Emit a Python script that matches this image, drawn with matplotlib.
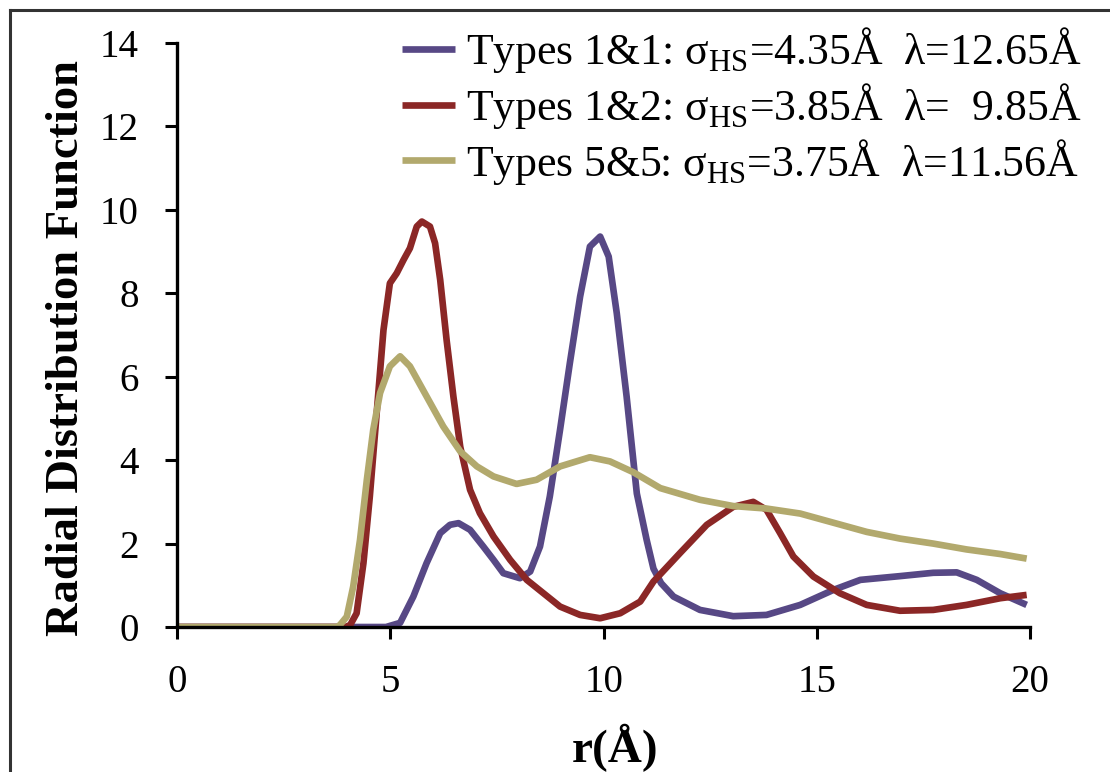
import matplotlib
matplotlib.use("Agg")
import matplotlib.pyplot as plt
from matplotlib.lines import Line2D

# ---- data ----
r_11 = [0, 4.9, 5.23, 5.54, 5.85, 6.17, 6.4, 6.6, 6.87, 7.18, 7.42, 7.65, 8.04, 8.28, 8.51, 8.74,
        8.98, 9.21, 9.45, 9.68, 9.92, 10.12, 10.31, 10.54, 10.78, 11.01, 11.17, 11.35, 11.64, 12.26,
        13.04, 13.82, 14.61, 15.39, 16.02, 16.95, 17.73, 18.28, 18.75, 19.3, 19.92]
g_11 = [0, 0, 0.1, 0.73, 1.53, 2.25, 2.45, 2.49, 2.33, 1.93, 1.61, 1.29, 1.17, 1.33, 1.93, 3.13,
        4.73, 6.33, 7.92, 9.12, 9.36, 8.88, 7.52, 5.53, 3.2, 2.09, 1.4, 1.05, 0.73, 0.41,
        0.26, 0.29, 0.53, 0.89, 1.13, 1.22, 1.30, 1.31, 1.13, 0.81, 0.53]

r_12 = [0, 3.95, 4.06, 4.21, 4.37, 4.52, 4.68, 4.84, 4.99, 5.15, 5.31, 5.46, 5.62, 5.74, 5.93, 6.05,
        6.17, 6.32, 6.48, 6.64, 6.87, 7.1, 7.42, 7.81, 8.2, 8.59, 8.98, 9.45, 9.92, 10.39, 10.86,
        11.17, 11.79, 12.42, 13.04, 13.51, 13.82, 14.14, 14.45, 14.92, 15.54, 16.17, 16.95, 17.73,
        18.51, 19.3, 19.92]
g_12 = [0, 0, 0.05, 0.33, 1.53, 3.13, 5.12, 7.12, 8.24, 8.48, 8.8, 9.08, 9.6, 9.72, 9.6, 9.2,
        8.32, 6.88, 5.52, 4.32, 3.29, 2.73, 2.17, 1.61, 1.13, 0.81, 0.49, 0.29, 0.21, 0.33, 0.61,
        1.09, 1.77, 2.45, 2.88, 3.0, 2.81, 2.25, 1.69, 1.21, 0.81, 0.53, 0.39, 0.41,
        0.53, 0.69, 0.77]

r_55 = [0, 3.75, 3.82, 3.98, 4.13, 4.29, 4.45, 4.6, 4.76, 4.99, 5.23, 5.46, 5.85, 6.24, 6.64, 7.03,
        7.42, 7.96, 8.43, 8.98, 9.68, 10.15, 10.7, 11.33, 12.26, 13.04, 13.82, 14.61, 15.39, 16.17,
        16.95, 17.73, 18.51, 19.3, 19.92]
g_55 = [0, 0, 0.05, 0.25, 0.97, 2.09, 3.53, 4.73, 5.61, 6.25, 6.49, 6.25, 5.53, 4.81, 4.21, 3.85,
        3.61, 3.43, 3.53, 3.85, 4.07, 3.97, 3.71, 3.33, 3.05, 2.9, 2.84, 2.72, 2.5, 2.28,
        2.12, 2.0, 1.86, 1.75, 1.64]

labels = [r"Types 1&1: σ$_{\mathregular{HS}}$=4.35Å  λ=12.65Å",
          r"Types 1&2: σ$_{\mathregular{HS}}$=3.85Å  λ=  9.85Å",
          r"Types 5&5: σ$_{\mathregular{HS}}$=3.75Å  λ=11.56Å"]
colors = ["#574885", "#8b2726", "#b2a96d"]
x_ticks = [0, 5, 10, 15, 20]
y_ticks = [0, 2, 4, 6, 8, 10, 12, 14]

plt.rcParams['mathtext.fontset'] = 'custom'
plt.rcParams['mathtext.rm'] = 'Liberation Serif'

fig = plt.figure(figsize=(11.1, 7.72), dpi=100)
ax = fig.add_axes([0.1595, 0.1878, 0.7685, 0.7565])

series = [(r_11, g_11), (r_12, g_12), (r_55, g_55)]
for (rr, gg), c, lab in zip(series, colors, labels):
    ax.plot(rr, gg, color=c, lw=4.8, label=lab, solid_capstyle='butt', solid_joinstyle='round')

ax.set_xlim(0, 20)
ax.set_ylim(0, 14)
ax.set_xticks(x_ticks)
ax.set_yticks(y_ticks)
for s in ['top', 'right']:
    ax.spines[s].set_visible(False)
for s in ['left', 'bottom']:
    ax.spines[s].set_linewidth(2.4)
ax.tick_params(width=2.2, length=8.6, labelsize=28, direction='out')
ax.tick_params(axis='y', pad=19)
ax.tick_params(axis='x', pad=18)
for lbl in ax.get_xticklabels() + ax.get_yticklabels():
    lbl.set_family('Liberation Serif')

fig.text(67 / 1110, 1 - 348 / 772, "Radial Distribution Function", rotation=90,
         ha='center', va='center', fontsize=33.5, fontweight='bold', family='Liberation Serif')
fig.text(615 / 1110, 10 / 772, "r(Å)", ha='center', va='baseline',
         fontsize=34, fontweight='bold', family='Liberation Serif')

leg = fig.legend(loc='upper right', bbox_to_anchor=(0.99, 0.99), frameon=False,
                 prop={'family': 'Liberation Serif', 'size': 31.5}, handlelength=1.2,
                 handletextpad=0.26, labelspacing=0.13, borderaxespad=0)

# figure frame (left and top edges)
fig.add_artist(Line2D([0.009, 0.009], [0, 0.987], transform=fig.transFigure, color='#333333', lw=2.2))
fig.add_artist(Line2D([0.009, 1.0], [0.987, 0.987], transform=fig.transFigure, color='#333333', lw=2.2))

fig.savefig("out.png", dpi=100)
